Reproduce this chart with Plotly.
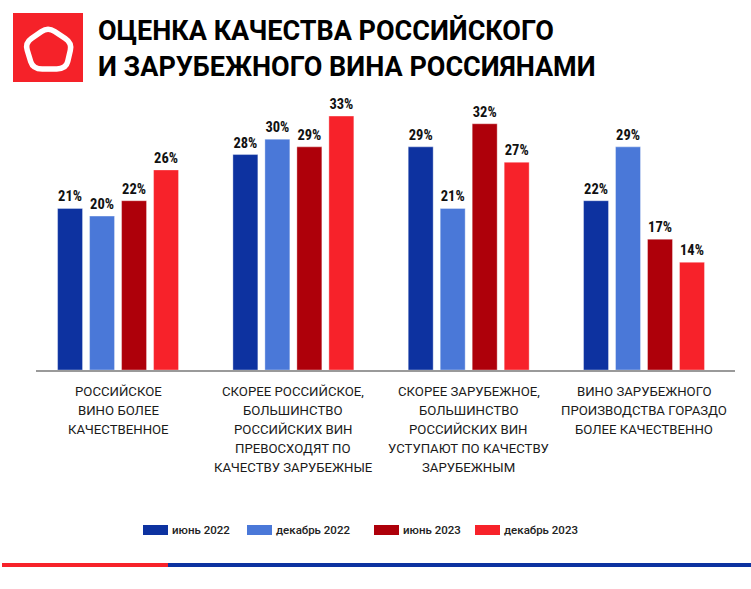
import plotly.graph_objects as go

W, H = 751, 589
ML, MR, MT, MB = 36, 16, 93, 219
PW = W - ML - MR
PH = H - MT - MB

categories = [
    "РОССИЙСКОЕ\nВИНО БОЛЕЕ\nКАЧЕСТВЕННОЕ",
    "СКОРЕЕ РОССИЙСКОЕ,\nБОЛЬШИНСТВО\nРОССИЙСКИХ ВИН\nПРЕВОСХОДЯТ ПО\nКАЧЕСТВУ ЗАРУБЕЖНЫЕ",
    "СКОРЕЕ ЗАРУБЕЖНОЕ,\nБОЛЬШИНСТВО\nРОССИЙСКИХ ВИН\nУСТУПАЮТ ПО КАЧЕСТВУ\nЗАРУБЕЖНЫМ",
    "ВИНО ЗАРУБЕЖНОГО\nПРОИЗВОДСТВА ГОРАЗДО\nБОЛЕЕ КАЧЕСТВЕННО",
]
series_names = ["июнь 2022", "декабрь 2022", "июнь 2023", "декабрь 2023"]
jun_2022 = [21, 28, 29, 22]
dec_2022 = [20, 30, 21, 29]
jun_2023 = [22, 29, 32, 17]
dec_2023 = [26, 33, 27, 14]
series_values = [jun_2022, dec_2022, jun_2023, dec_2023]
colors = ["#0D32A0", "#4A78D8", "#AE000A", "#F7222A"]

title_lines = ["ОЦЕНКА КАЧЕСТВА РОССИЙСКОГО", "И ЗАРУБЕЖНОГО ВИНА РОССИЯНАМИ"]


def px(x):
    return (x - ML) / PW


def py(y):
    return (MT + PH - y) / PH


xs = list(range(len(categories)))
fig = go.Figure()
for name, vals, col in zip(series_names, series_values, colors):
    fig.add_trace(go.Bar(
        x=xs, y=vals, name=name,
        marker=dict(color=col, line=dict(color="rgba(255,255,255,0.35)", width=1)),
        texttemplate="%{y}%", textposition="outside",
        textfont=dict(family="Liberation Sans Narrow, Roboto Condensed, Roboto", size=14.5, color="#111", weight=700),
        cliponaxis=False, showlegend=False,
    ))

shapes = []
annotations = []

# Logo
shapes.append(dict(type="rect", xref="paper", yref="paper", x0=px(13), x1=px(83), y0=py(82), y1=py(13),
                   fillcolor="#F52229", line=dict(width=0), layer="above"))
verts = [(48, 27), (72, 43), (66, 69), (33, 69), (25, 43)]
r = 0.28
path = ""
n = len(verts)
for i in range(n):
    p0 = verts[i - 1]
    p1 = verts[i]
    p2 = verts[(i + 1) % n]
    a = (p1[0] + (p0[0] - p1[0]) * r, p1[1] + (p0[1] - p1[1]) * r)
    b = (p1[0] + (p2[0] - p1[0]) * r, p1[1] + (p2[1] - p1[1]) * r)
    path += ("M" if i == 0 else "L") + f"{px(a[0])},{py(a[1])} "
    path += f"Q{px(p1[0])},{py(p1[1])} {px(b[0])},{py(b[1])} "
path += "Z"
shapes.append(dict(type="path", xref="paper", yref="paper", path=path,
                   line=dict(color="white", width=5.5), fillcolor="rgba(0,0,0,0)", layer="above"))

# Title
for i, t in enumerate(title_lines):
    annotations.append(dict(text=f"<b>{t}</b>", xref="paper", yref="paper", x=px(96), y=py(31 + 35.5 * i),
                            xanchor="left", yanchor="middle", showarrow=False,
                            font=dict(family="Roboto", size=27, color="#000")))

# Category labels
for ci, cat in enumerate(categories):
    for li, line in enumerate(cat.split("\n")):
        annotations.append(dict(text=line, xref="x", yref="paper", x=ci, y=py(391 + 19 * li),
                                xanchor="center", yanchor="middle", showarrow=False,
                                font=dict(family="Roboto", size=13.2, color="#1a1a1a")))

# Legend
leg_x = [143, 247, 374, 475]
for lx, name, col in zip(leg_x, series_names, colors):
    shapes.append(dict(type="rect", xref="paper", yref="paper", x0=px(lx), x1=px(lx + 25),
                       y0=py(535), y1=py(525), fillcolor=col, line=dict(width=0)))
    annotations.append(dict(text=name, xref="paper", yref="paper", x=px(lx + 27), y=py(530),
                            xanchor="left", yanchor="middle", showarrow=False,
                            font=dict(family="Roboto", size=11.5, color="#222", weight=500)))

# Bottom stripe
shapes.append(dict(type="rect", xref="paper", yref="paper", x0=px(2), x1=px(168), y0=py(567), y1=py(563),
                   fillcolor="#F7222A", line=dict(width=0)))
shapes.append(dict(type="rect", xref="paper", yref="paper", x0=px(168), x1=px(751), y0=py(567), y1=py(563),
                   fillcolor="#0D32A0", line=dict(width=0)))

fig.update_layout(
    width=W, height=H,
    margin=dict(l=ML, r=MR, t=MT, b=MB),
    paper_bgcolor="white", plot_bgcolor="white",
    barmode="group", bargap=0.27, bargroupgap=0.22,
    xaxis=dict(range=[-0.468, 3.519], showline=True, linecolor="#9a9a9a", linewidth=1.5,
               showticklabels=False, ticks="", showgrid=False, zeroline=False, fixedrange=True),
    yaxis=dict(range=[0, 36], visible=False, showgrid=False, zeroline=False, fixedrange=True),
    shapes=shapes, annotations=annotations,
    showlegend=False,
)

fig.write_html("out.html", config={"displayModeBar": False},
               post_script="document.body.style.margin='0';document.body.style.padding='0';")
